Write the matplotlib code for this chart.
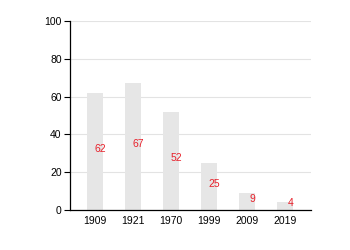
import matplotlib
matplotlib.use("Agg")
import matplotlib.pyplot as plt

years = ["1909", "1921", "1970", "1999", "2009", "2019"]
values = [62, 67, 52, 25, 9, 4]

plt.rcParams['font.family'] = ['Liberation Sans', 'DejaVu Sans']
fig = plt.figure(figsize=(3.5, 2.5), dpi=100)
ax = fig.add_axes([0.2, 0.16, 0.689, 0.756])
x = list(range(len(years)))
ax.bar(x, values, width=0.42, color='#e6e6e6', zorder=2)
for xi, v in zip(x, values):
    ax.text(xi + 0.14, v / 2 + 1.5, str(v), color='#e8202a', fontsize=7.5,
            ha='center', va='center', zorder=3)
ax.set_ylim(0, 100)
ax.set_xlim(-0.66, 5.68)
ax.set_yticks([0, 20, 40, 60, 80, 100])
ax.set_xticks(x)
ax.set_xticklabels(years)
ax.tick_params(axis='x', length=0, labelsize=7.5, pad=4)
ax.tick_params(axis='y', length=4, width=0.8, labelsize=7.5, pad=2)
ax.yaxis.grid(True, color='#e3e3e3', linewidth=0.8, zorder=0)
ax.set_axisbelow(True)
for s in ['top', 'right']:
    ax.spines[s].set_visible(False)
for s in ['left', 'bottom']:
    ax.spines[s].set_linewidth(0.9)
fig.savefig("out.png", dpi=100)
